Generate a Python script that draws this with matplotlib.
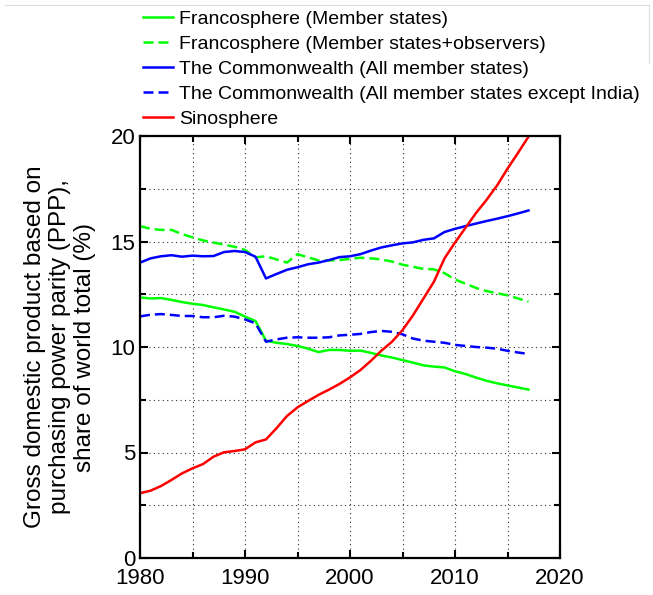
import matplotlib
matplotlib.use("Agg")
import matplotlib.pyplot as plt
from matplotlib.ticker import MultipleLocator
from matplotlib.lines import Line2D

plt.rcParams['font.family'] = ['Liberation Sans', 'DejaVu Sans']

years = list(range(1980, 2018))

franco_members = [12.35, 12.30, 12.32, 12.23, 12.13, 12.05, 11.99, 11.88, 11.78, 11.67,
                  11.44, 11.23, 10.30, 10.20, 10.14, 10.05, 9.92, 9.76, 9.86, 9.86,
                  9.82, 9.83, 9.72, 9.60, 9.50, 9.38, 9.26, 9.13, 9.07, 9.03,
                  8.85, 8.72, 8.55, 8.40, 8.28, 8.18, 8.08, 7.98]

franco_observers = [15.73, 15.60, 15.55, 15.55, 15.35, 15.20, 15.05, 14.95, 14.85, 14.75,
                    14.60, 14.25, 14.30, 14.15, 14.00, 14.40, 14.25, 14.10, 14.10, 14.12,
                    14.18, 14.23, 14.20, 14.15, 14.05, 13.90, 13.80, 13.70, 13.68, 13.50,
                    13.20, 13.00, 12.80, 12.65, 12.55, 12.45, 12.30, 12.15]

commonwealth_all = [14.00, 14.20, 14.30, 14.35, 14.28, 14.33, 14.30, 14.31, 14.50, 14.55,
                    14.50, 14.28, 13.25, 13.46, 13.66, 13.78, 13.92, 14.00, 14.12, 14.26,
                    14.30, 14.40, 14.57, 14.72, 14.82, 14.91, 14.96, 15.08, 15.15, 15.45,
                    15.60, 15.73, 15.85, 15.97, 16.08, 16.20, 16.33, 16.47]

commonwealth_ex_india = [11.45, 11.53, 11.56, 11.52, 11.47, 11.47, 11.41, 11.41, 11.48, 11.44,
                         11.31, 11.12, 10.25, 10.36, 10.44, 10.46, 10.44, 10.44, 10.46, 10.55,
                         10.58, 10.62, 10.71, 10.76, 10.72, 10.60, 10.40, 10.30, 10.25, 10.20,
                         10.10, 10.05, 10.00, 9.97, 9.92, 9.82, 9.74, 9.67]

sinosphere = [3.07, 3.19, 3.41, 3.70, 4.01, 4.25, 4.45, 4.80, 5.01, 5.07,
              5.15, 5.48, 5.62, 6.15, 6.73, 7.14, 7.44, 7.73, 7.98, 8.25,
              8.56, 8.91, 9.35, 9.83, 10.25, 10.80, 11.50, 12.30, 13.10, 14.20,
              14.95, 15.65, 16.35, 16.97, 17.65, 18.45, 19.20, 19.97]

labels = ["Francosphere (Member states)",
          "Francosphere (Member states+observers)",
          "The Commonwealth (All member states)",
          "The Commonwealth (All member states except India)",
          "Sinosphere"]

x_ticks = [1980, 1990, 2000, 2010, 2020]
y_ticks = [0, 5, 10, 15, 20]

fig = plt.figure(figsize=(6.53, 5.95), dpi=100)
ax = fig.add_axes([140/653, 37/595, 420/653, 422/595])

lw = 1.8
ax.plot(years, franco_members, color='#00ff00', lw=lw, label=labels[0])
ax.plot(years, franco_observers, color='#00ff00', lw=lw, ls=(0, (4, 2)), label=labels[1])
ax.plot(years, commonwealth_all, color='#0000ff', lw=lw, label=labels[2])
ax.plot(years, commonwealth_ex_india, color='#0000ff', lw=lw, ls=(0, (4, 2)), label=labels[3])
ax.plot(years, sinosphere, color='#ff0000', lw=lw, label=labels[4])

ax.set_xlim(1980, 2020)
ax.set_ylim(0, 20)
ax.set_xticks(x_ticks)
ax.set_yticks(y_ticks)
ax.xaxis.set_minor_locator(MultipleLocator(5))
ax.yaxis.set_minor_locator(MultipleLocator(2.5))
ax.tick_params(which='both', direction='in', top=True, right=True, labelsize=16,
               width=1.5, color='black')
ax.tick_params(which='major', length=6)
ax.tick_params(which='minor', length=4)
ax.tick_params(axis='x', pad=7)
ax.grid(True, which='both', ls=(0, (1, 3)), color='#333333', lw=0.8)
for s in ax.spines.values():
    s.set_linewidth(1.6)
    s.set_color('black')

ax.set_ylabel("Gross domestic product based on\npurchasing power parity (PPP),\nshare of world total (%)",
              fontsize=17.5, linespacing=1.2, labelpad=10)

fig.legend(loc='upper left', bbox_to_anchor=(143/653, 1 - 10/595), frameon=False,
           fontsize=14, handlelength=1.55, handletextpad=0.3, labelspacing=0.38,
           borderaxespad=0, borderpad=0)

fig.add_artist(Line2D([5/653, 649/653], [1 - 5/595, 1 - 5/595], color='#dddddd', lw=0.8))
fig.add_artist(Line2D([649/653, 649/653], [1 - 5/595, 1 - 63/595], color='#dddddd', lw=0.8))

fig.savefig("out.png", dpi=100)
